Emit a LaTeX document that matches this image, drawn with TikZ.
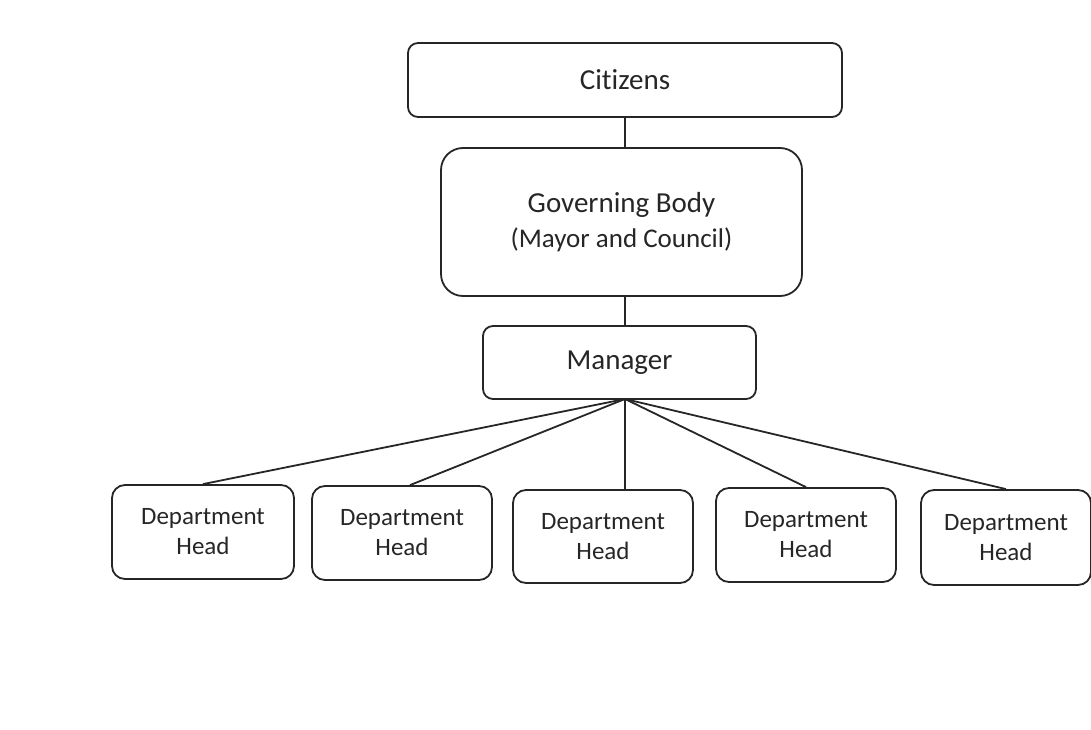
\documentclass[tikz,border=0pt]{standalone}
\usepackage{fontspec}
\setmainfont{Carlito}[Ligatures={NoCommon}]
\usetikzlibrary{calc}
\begin{document}
\begin{tikzpicture}[x=1pt,y=-1pt,
  box/.style={draw=black!85, line width=1.8pt, inner sep=0pt, align=center, text=black!85},
  conn/.style={draw=black!85, line width=1.8pt},
  big/.style={font=\fontsize{29}{35}\selectfont},
  small/.style={font=\fontsize{25}{30}\selectfont, rounded corners=13pt, minimum width=180pt, minimum height=94pt}]
\useasboundingbox (0,0) rectangle (1091,730);
\node[box,big,rounded corners=10pt,minimum width=434pt,minimum height=74pt] (cit) at (625,80) {Citizens};
\node[box,big,rounded corners=22pt,minimum width=361pt,minimum height=148pt] (gov) at (621.5,222) {Governing Body\\{\fontsize{27}{35}\selectfont (Mayor and Council)}};
\node[box,big,rounded corners=10pt,minimum width=273pt,minimum height=73pt] (mgr) at (619.5,362.5) {Manager};
\node[box,small,minimum width=182pt] (d1) at (203,532) {Department\\Head};
\node[box,small] (d2) at (402,533) {Department\\Head};
\node[box,small,minimum height=93pt] (d3) at (603,536.5) {Department\\Head};
\node[box,small] (d4) at (806,535) {Department\\Head};
\node[box,small,minimum width=170pt,minimum height=95pt] (d5) at (1006,537.5) {Department\\Head};
\coordinate (hub) at (625,399);
\draw[conn] (cit.south -| hub) -- (gov.north -| hub);
\draw[conn] (gov.south -| hub) -- (mgr.north -| hub);
\draw[conn] (hub) -- (d1.north);
\draw[conn] (hub) -- ($(d2.north)+(8,0)$);
\draw[conn] (hub) -- (hub |- d3.north);
\draw[conn] (hub) -- (d4.north);
\draw[conn] (hub) -- (d5.north);
\end{tikzpicture}
\end{document}
